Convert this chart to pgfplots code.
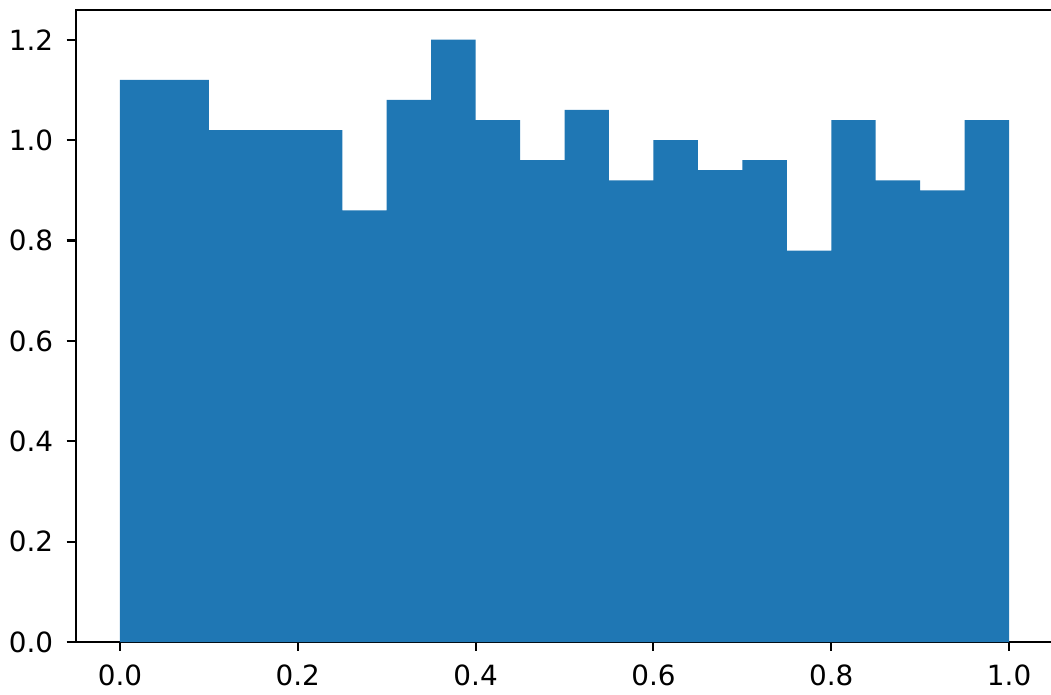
\documentclass[border=0pt]{standalone}
\usepackage{pgfplots}
\pgfplotsset{compat=1.18}
\usepackage{fontspec}
\setmainfont{DejaVu Sans}
\definecolor{mplblue}{HTML}{1F77B4}
\begin{document}
\begin{tikzpicture}
\begin{axis}[
  name=ax,
  scale only axis,
  width=386.3pt, height=249.8pt,
  xmin=-0.05, xmax=1.05,
  ymin=0, ymax=1.26,
  xtick={0,0.2,0.4,0.6,0.8,1.0},
  ytick={0,0.2,0.4,0.6,0.8,1.0,1.2},
  tick align=outside,
  tick pos=left,
  major tick length=3.5pt,
  tick style={black, line width=0.8pt},
  axis line style={line width=0.8pt},
  every tick label/.append style={font=\fontsize{11pt}{13pt}\selectfont},
  xticklabel style={yshift=-1.8pt},
  yticklabel style={xshift=-1.8pt},
  /pgf/number format/assume math mode=true,
  /pgf/number format/.cd, fixed, fixed zerofill, precision=1,
]
\addplot[fill=mplblue, draw=none, const plot mark left] coordinates {
(0.00,1.12) (0.05,1.12) (0.10,1.02) (0.15,1.02) (0.20,1.02)
(0.25,0.86) (0.30,1.08) (0.35,1.20) (0.40,1.04) (0.45,0.96)
(0.50,1.06) (0.55,0.92) (0.60,1.00) (0.65,0.94) (0.70,0.96)
(0.75,0.78) (0.80,1.04) (0.85,0.92) (0.90,0.90) (0.95,1.04)
(1.00,1.04)
} \closedcycle;
\end{axis}
\pgfresetboundingbox
\path[use as bounding box] ([xshift=-29.84pt,yshift=-20.9pt]ax.south west) rectangle ([xshift=385.3pt,yshift=253.6pt]ax.south west);
\end{tikzpicture}
\end{document}
